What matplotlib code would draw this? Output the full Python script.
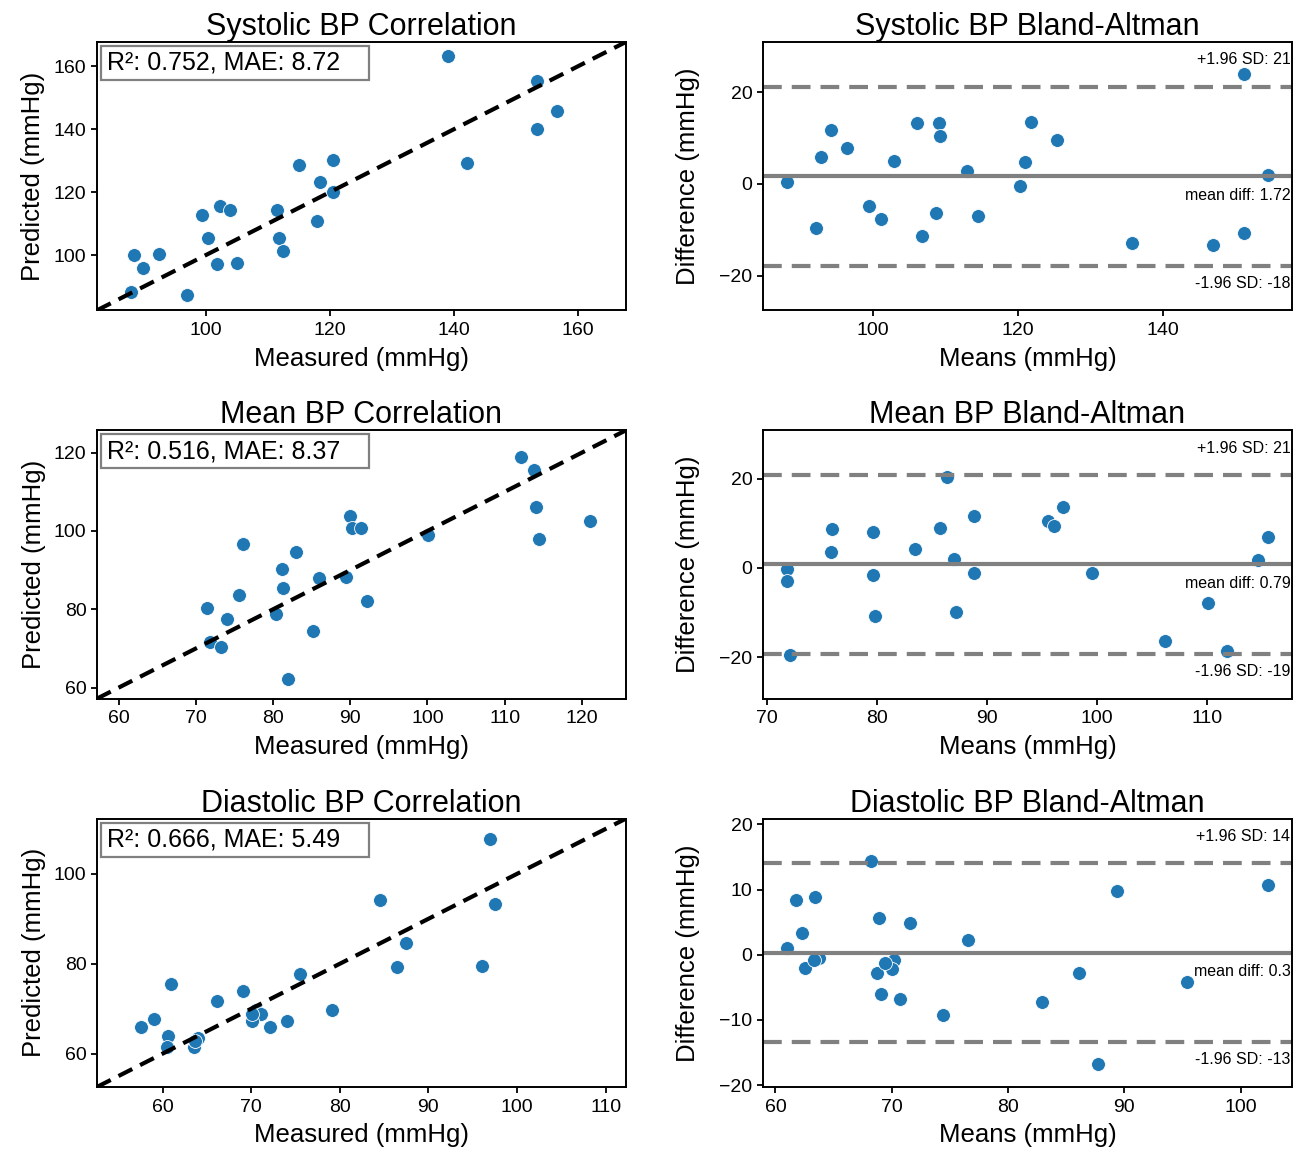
import matplotlib
matplotlib.use("Agg")
import matplotlib.pyplot as plt
import numpy as np
from matplotlib.patches import Rectangle
from matplotlib.ticker import MultipleLocator

plt.rcParams["font.family"] = ["Liberation Sans", "DejaVu Sans"]
plt.rcParams["axes.linewidth"] = 1.4
plt.rcParams["xtick.major.width"] = 1.3
plt.rcParams["ytick.major.width"] = 1.3
plt.rcParams["xtick.major.size"] = 4
plt.rcParams["ytick.major.size"] = 4
plt.rcParams["xtick.major.pad"] = 4.5

names = ["Systolic BP", "Mean BP", "Diastolic BP"]

# measured / predicted values per pressure type (mmHg)
sys_measured = [139.1, 153.5, 156.6, 153.5, 142.1, 115.0, 120.5, 118.5, 120.5, 118.0, 111.5, 111.9,
                112.5, 102.4, 104.0, 99.4, 100.4, 101.9, 105.0, 97.0, 88.4, 89.9, 92.5, 88.0]
sys_predicted = [163.2, 155.4, 145.8, 140.2, 129.3, 128.6, 130.2, 123.4, 120.1, 110.9, 114.4, 105.5,
                 101.2, 115.8, 114.5, 112.8, 105.5, 97.1, 97.4, 87.3, 100.2, 95.8, 100.4, 88.4]

map_measured = [112.1, 113.8, 114.0, 114.4, 121.1, 100.1, 90.0, 90.2, 91.4, 76.1, 83.0, 81.2,
                81.3, 85.9, 89.4, 75.6, 92.2, 71.5, 74.0, 80.4, 71.9, 73.3, 85.2, 81.9]
map_predicted = [119.0, 115.5, 106.2, 97.9, 102.5, 99.0, 103.8, 100.8, 100.8, 96.6, 94.6, 90.2,
                 85.5, 88.0, 88.3, 83.7, 82.2, 80.3, 77.6, 78.8, 71.7, 70.3, 74.4, 62.3]

dia_measured = [97.0, 84.5, 97.5, 87.5, 86.5, 96.1, 75.5, 79.1, 61.0, 69.1, 66.1, 70.6,
                71.1, 70.1, 72.1, 74.1, 59.0, 57.6, 60.6, 60.5, 64.0, 63.6, 70.1, 63.7]
dia_predicted = [107.7, 94.3, 93.3, 84.7, 79.3, 79.4, 77.7, 69.8, 75.4, 74.0, 71.8, 69.8,
                 68.9, 67.3, 66.0, 67.3, 67.8, 66.0, 63.9, 61.5, 63.5, 61.5, 68.8, 62.9]

measured = [sys_measured, map_measured, dia_measured]
predicted = [sys_predicted, map_predicted, dia_predicted]

# summary stats as printed on the figure
r2 = [0.752, 0.516, 0.666]
mae = [8.72, 8.37, 5.49]
mean_diff = [1.72, 0.79, 0.3]
sd_diff = [9.97, 10.25, 7.0]

corr_lims = [(82.5, 167.8), (57.2, 125.7), (52.6, 112.3)]
corr_steps = [(20, 20), (10, 20), (10, 20)]
ba_steps = [(20, 20), (10, 20), (10, 10)]

blue = "#1f77b4"

fig, axes = plt.subplots(3, 2, figsize=(12.93, 11.49), dpi=100)
fig.subplots_adjust(left=0.075, right=0.9992, top=0.9635, bottom=0.054,
                    wspace=0.259, hspace=0.447)

for i, name in enumerate(names):
    m = np.array(measured[i])
    p = np.array(predicted[i])

    # correlation panel
    ax = axes[i, 0]
    ax.scatter(m, p, s=100, color=blue, edgecolors="white", linewidths=0.6)
    lo, hi = corr_lims[i]
    ax.plot([lo, hi], [lo, hi], "k", ls=(0, (3.7, 2.1)), lw=3)
    ax.set_xlim(lo, hi)
    ax.set_ylim(lo, hi)
    ax.xaxis.set_major_locator(MultipleLocator(corr_steps[i][0]))
    ax.yaxis.set_major_locator(MultipleLocator(corr_steps[i][1]))
    ax.add_patch(Rectangle((0.0075, 0.858), 0.5075, 0.127, transform=ax.transAxes,
                           facecolor="white", edgecolor="#808080", lw=1.6, zorder=4))
    ax.text(0.019, 0.922, f"R²: {r2[i]:.3f}, MAE: {mae[i]:.2f}", transform=ax.transAxes,
            va="center", ha="left", fontsize=18, zorder=5)
    ax.set_title(f"{name} Correlation", fontsize=22, pad=4)
    ax.set_xlabel("Measured (mmHg)", fontsize=18.5, labelpad=5.5)
    ax.set_ylabel("Predicted (mmHg)", fontsize=18.5, labelpad=6)
    ax.tick_params(labelsize=14)

    # Bland-Altman panel
    ax = axes[i, 1]
    means = (m + p) / 2
    diffs = p - m
    md = mean_diff[i]
    sd = sd_diff[i]
    upper = md + 1.96 * sd
    lower = md - 1.96 * sd
    ax.scatter(means, diffs, s=100, color=blue, edgecolors="white", linewidths=0.6)
    ax.axhline(md, color="gray", lw=3)
    ax.axhline(upper, color="gray", ls=(0, (4.5, 2.4)), lw=3)
    ax.axhline(lower, color="gray", ls=(0, (4.5, 2.4)), lw=3)
    ax.set_ylim(md - 1.5 * 1.96 * sd, md + 1.5 * 1.96 * sd)
    ax.xaxis.set_major_locator(MultipleLocator(ba_steps[i][0]))
    ax.yaxis.set_major_locator(MultipleLocator(ba_steps[i][1]))
    trans = ("axes fraction", "data")
    ax.annotate(f"+1.96 SD: {upper:.0f}", xy=(0.997, upper), xycoords=trans,
                xytext=(0, 16), textcoords="offset points", ha="right", va="baseline",
                fontsize=11.5)
    ax.annotate(f"mean diff: {round(md, 2)}", xy=(0.997, md), xycoords=trans,
                xytext=(0, -17), textcoords="offset points", ha="right", va="baseline",
                fontsize=11.5)
    ax.annotate(f"-1.96 SD: {lower:.0f}", xy=(0.997, lower), xycoords=trans,
                xytext=(0, -16), textcoords="offset points", ha="right", va="baseline",
                fontsize=11.5)
    ax.set_title(f"{name} Bland-Altman", fontsize=22, pad=4)
    ax.set_xlabel("Means (mmHg)", fontsize=18.5, labelpad=5.5)
    ax.set_ylabel("Difference (mmHg)", fontsize=18.5, labelpad=14)
    ax.tick_params(labelsize=14)

fig.savefig("out.png", dpi=100)
